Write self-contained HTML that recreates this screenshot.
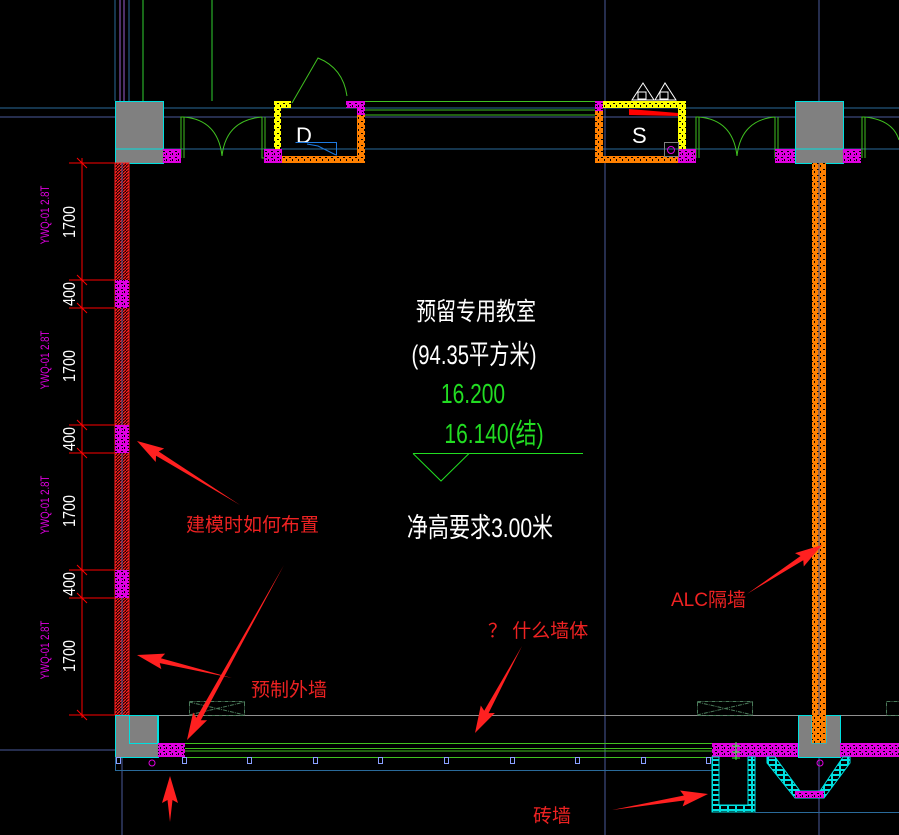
<!DOCTYPE html>
<html><head><meta charset="utf-8"><style>
html,body{margin:0;padding:0;background:#000;width:899px;height:835px;overflow:hidden}
svg{display:block}
.cad{font-family:"Liberation Sans","Noto Sans CJK SC",sans-serif}
</style></head><body>
<svg id="s" width="899" height="835" viewBox="0 0 899 835" xmlns="http://www.w3.org/2000/svg">
<defs>
<pattern id="mag" width="6" height="6" patternUnits="userSpaceOnUse"><rect width="6" height="6" fill="#e000e0"/><rect x="1" y="1" width="2" height="1" fill="#000"/><rect x="4" y="3" width="1" height="2" fill="#000"/><rect x="2" y="4" width="1" height="1" fill="#000"/></pattern>
<pattern id="org" width="6" height="6" patternUnits="userSpaceOnUse"><rect width="6" height="6" fill="#ff8000"/><rect x="1" y="1" width="2" height="1" fill="#000"/><rect x="4" y="3" width="1" height="2" fill="#000"/></pattern>
<pattern id="yel" width="6" height="6" patternUnits="userSpaceOnUse"><rect width="6" height="6" fill="#ffff00"/><rect x="1" y="1" width="2" height="1" fill="#000"/><rect x="4" y="3" width="1" height="2" fill="#000"/></pattern>
<pattern id="hat" width="3" height="3" patternUnits="userSpaceOnUse"><rect width="3" height="3" fill="#200000"/><path d="M-1 4L4 -1" stroke="#ff2020" stroke-width="1.2"/></pattern>
<pattern id="brk" width="8" height="5" patternUnits="userSpaceOnUse"><rect width="8" height="5" fill="#00e0e0"/><rect x="1" y="1" width="6" height="3" fill="#000"/></pattern>
</defs>
<rect width="899" height="835" fill="#000"/>
<g fill="none" stroke-width="1">
<line x1="0" y1="108" x2="899" y2="108" stroke="#2a6a9a"/>
<line x1="0" y1="117" x2="899" y2="117" stroke="#4a5a9a"/>
<line x1="163" y1="149" x2="899" y2="149" stroke="#2a6a9a"/>
<line x1="605" y1="0" x2="605" y2="835" stroke="#4a5a9a"/>
<line x1="819" y1="0" x2="819" y2="835" stroke="#4a5a9a"/>
<line x1="122" y1="101" x2="122" y2="835" stroke="#4a5a9a"/>
<line x1="0" y1="750" x2="158" y2="750" stroke="#4a5a9a"/>
<line x1="115" y1="0" x2="115" y2="101" stroke="#2a6a9a"/>
<line x1="120" y1="0" x2="120" y2="101" stroke="#9a60d0"/>
<line x1="124" y1="0" x2="124" y2="101" stroke="#9a60d0"/>
<line x1="129" y1="0" x2="129" y2="101" stroke="#2a6a9a"/>
<line x1="143" y1="0" x2="143" y2="135" stroke="#30d030"/>
<line x1="212" y1="0" x2="212" y2="101" stroke="#30d030"/>
<g stroke="#40c020"><line x1="365" y1="101.5" x2="598" y2="101.5"/><line x1="365" y1="110" x2="598" y2="110"/><line x1="365" y1="115" x2="598" y2="115"/></g>
<path d="M292 103 L318 58 Q343 68 347 96" stroke="#40c020"/>
<g stroke="#40c020">
<path d="M181 158V117H184V158 M184 117Q218 120 222 156 Q226 120 262 117 M262 117V158H265V117"/>
<path d="M696 158V117H699V158 M699 117Q733 120 737 156 Q741 120 775 117 M775 117V158H778V117"/>
<path d="M862 158V117H865V158 M865 117Q893 120 899 140"/>
</g>
</g>
<rect x="115.5" y="101.5" width="48" height="62" fill="#808080" stroke="#00e0e0"/>
<line x1="115" y1="149" x2="163" y2="149" stroke="#00e0e0"/>
<rect x="795.5" y="101.5" width="48" height="62" fill="#808080" stroke="#00e0e0"/>
<line x1="795" y1="149" x2="843" y2="149" stroke="#00e0e0"/>
<rect x="274" y="101" width="7" height="59" fill="url(#yel)"/>
<rect x="274" y="101" width="17" height="7" fill="url(#yel)"/>
<rect x="281" y="156" width="84" height="7" fill="url(#org)"/>
<rect x="357" y="110" width="8" height="53" fill="url(#org)"/>
<rect x="346" y="101" width="19" height="7" fill="url(#mag)"/>
<rect x="357" y="101" width="8" height="14" fill="url(#mag)"/>
<rect x="264" y="149" width="18" height="14" fill="url(#mag)"/>
<rect x="163" y="149" width="18" height="14" fill="url(#mag)"/>
<text x="296" y="143" fill="#fff" font-size="22" class="cad">D</text>
<path d="M295.5 142.5H336.5V155.5 M307 144L318 146L336 155" fill="none" stroke="#1e7ae0"/>
<rect x="602" y="101" width="84" height="7" fill="url(#yel)"/>
<rect x="678" y="101" width="8" height="49" fill="url(#yel)"/>
<rect x="595" y="108" width="8" height="55" fill="url(#org)"/>
<rect x="595" y="156" width="85" height="7" fill="url(#org)"/>
<rect x="595" y="101" width="8" height="10" fill="url(#mag)"/>
<rect x="678" y="149" width="18" height="14" fill="url(#mag)"/>
<rect x="775" y="149" width="20" height="14" fill="url(#mag)"/>
<rect x="843" y="149" width="18" height="14" fill="url(#mag)"/>
<polygon points="629,109 678,113 678,116 629,115" fill="#ff0000"/>
<text x="632" y="143" fill="#fff" font-size="22" class="cad">S</text>
<rect x="664.5" y="142.5" width="14" height="14" fill="none" stroke="#808080"/>
<circle cx="671" cy="150" r="3.5" fill="none" stroke="#e000e0"/>
<g fill="none" stroke="#fff"><path d="M632 100L643 83L654 100Z M655 100L665 83L676 100Z"/><rect x="638" y="92" width="8" height="7"/><rect x="660" y="92" width="8" height="7"/></g>
<rect x="812" y="163" width="14" height="552" fill="url(#org)"/>
<line x1="819" y1="163" x2="819" y2="715" stroke="#4a5a9a"/>
<rect x="115" y="163" width="14" height="552" fill="url(#hat)" stroke="#ff2020"/>
<line x1="122" y1="163" x2="122" y2="715" stroke="#4a5a9a"/>
<rect x="115" y="280" width="14" height="28" fill="url(#mag)"/>
<rect x="115" y="425" width="14" height="28" fill="url(#mag)"/>
<rect x="115" y="570" width="14" height="28" fill="url(#mag)"/>
<g stroke="#ff0000"><line x1="82" y1="158" x2="82" y2="718"/>
<g id="dims"></g></g>
<g id="dimt" class="cad"></g>
<g class="cad" text-anchor="middle">
<text transform="translate(476,320) scale(0.8,1)" fill="#fff" font-size="25">预留专用教室</text>
<text transform="translate(474,364) scale(0.75,1)" fill="#fff" font-size="27">(94.35平方米)</text>
<text transform="translate(473,403) scale(0.75,1)" fill="#22dd22" font-size="28">16.200</text>
<text transform="translate(494,443) scale(0.75,1)" fill="#22dd22" font-size="28">16.140(结)</text>
<text transform="translate(480,537) scale(0.78,1)" fill="#fff" font-size="27">净高要求3.00米</text>
</g>
<path d="M413 453.5H583 M413 453.5L441 481L469 453.5" fill="none" stroke="#22dd22"/>
<line x1="115" y1="715.5" x2="899" y2="715.5" stroke="#909090"/>
<rect x="115.5" y="715.5" width="43" height="42" fill="#808080" stroke="#00e0e0"/>
<rect x="129.5" y="715.5" width="28" height="28" fill="#808080" stroke="#00e0e0"/>
<rect x="158" y="743" width="27" height="14" fill="url(#mag)"/>
<g stroke="#40c020"><line x1="185" y1="743.5" x2="712" y2="743.5"/><line x1="185" y1="748.5" x2="712" y2="748.5"/><line x1="185" y1="751" x2="712" y2="751"/><line x1="185" y1="757.5" x2="712" y2="757.5"/></g>
<path d="M115.5 757V770.5H712" fill="none" stroke="#2a6a9a"/>
<circle cx="152" cy="763" r="3" fill="none" stroke="#e000e0"/>
<g id="sq" fill="none" stroke="#8aa0ff"></g>
<g fill="none" stroke="#4a7a5a" stroke-dasharray="4,1,1,1"><rect x="189.5" y="701.5" width="55" height="14"/><path d="M189 702L245 715M189 715L245 702"/><rect x="697.5" y="701.5" width="55" height="14"/><path d="M697 702L753 715M697 715L753 702"/><rect x="886.5" y="701.5" width="20" height="14"/></g>
<rect x="712" y="743" width="86" height="14" fill="url(#mag)"/>
<rect x="798.5" y="715.5" width="42" height="42" fill="#808080" stroke="#00e0e0"/>
<path d="M812 715V743H826V715" fill="none" stroke="#00e0e0"/>
<rect x="812" y="715" width="14" height="28" fill="url(#org)"/>
<rect x="840" y="743" width="59" height="14" fill="url(#mag)"/>
<path d="M712 757H719V805H748V757H755V812H712Z" fill="url(#brk)" stroke="#00e0e0"/>
<path d="M767 757H775L800 791H820L843 757H850V763L824 798H795L767 763Z" fill="url(#brk)" stroke="#00e0e0"/>
<rect x="795" y="791" width="29" height="7" fill="url(#mag)"/>
<circle cx="820" cy="763" r="3" fill="none" stroke="#e000e0"/>
<path d="M755 812.5H899" stroke="#2a6a9a"/>
<path d="M736 742V760M732 746H740M732 752H740M732 758H740" stroke="#40ff40"/>
<g class="cad" fill="#ee2222" font-size="19">
<text x="186" y="531">建模时如何布置</text>
<text x="251" y="696">预制外墙</text>
<text x="488" y="637">？ 什么墙体</text>
<text x="671" y="606">ALC隔墙</text>
<text x="533" y="822">砖墙</text>
</g>
<g id="arr" fill="#ff2020"></g>
</svg>
<script>
var NS="http://www.w3.org/2000/svg";
function el(p,t,a,txt){var e=document.createElementNS(NS,t);for(var k in a)e.setAttribute(k,a[k]);if(txt)e.textContent=txt;p.appendChild(e);return e;}
var dims=document.getElementById('dims');
[163,280,308,425,453,570,598,715].forEach(function(y){el(dims,'line',{x1:69,y1:y,x2:115,y2:y});el(dims,'line',{x1:77,y1:y-5,x2:87,y2:y+5});});
var dt=document.getElementById('dimt');
[[222,'1700'],[294,'400'],[366,'1700'],[439,'400'],[511,'1700'],[584,'400'],[656,'1700']].forEach(function(d){
el(dt,'text',{transform:'translate(75,'+d[0]+') rotate(-90) scale(0.8,1)',fill:'#fff','font-size':'18','text-anchor':'middle'},d[1]);});
[215,360,505,650].forEach(function(y){el(dt,'text',{transform:'translate(49,'+y+') rotate(-90) scale(0.8,1)',fill:'#e000e0','font-size':'12','text-anchor':'middle'},'YWQ-01 2.8T');});
var sq=document.getElementById('sq');
for(var x=116;x<712;x+=65.6){el(sq,'rect',{x:Math.round(x)+.5,y:757.5,width:4,height:6});}
var ar=document.getElementById('arr');
function arrow(tx,ty,hx,hy){var dx=hx-tx,dy=hy-ty,L=Math.sqrt(dx*dx+dy*dy),ux=dx/L,uy=dy/L,nx=-uy,ny=ux,hl=24,bx=hx-ux*hl,by=hy-uy*hl;
var pts=[[tx,ty],[bx+nx*2.5,by+ny*2.5],[bx-ux*3+nx*8,by-uy*3+ny*8],[hx,hy],[bx-ux*3-nx*8,by-uy*3-ny*8],[bx-nx*2.5,by-ny*2.5]];
el(ar,'polygon',{points:pts.map(function(p){return p.join(',')}).join(' ')});}
arrow(240,505,137,441);arrow(232,678,137,655);arrow(284,565,187,740);arrow(170,822,170,776);arrow(522,646,475,733);arrow(747,594,822,545);arrow(612,810,708,794);
</script>
</body></html>
